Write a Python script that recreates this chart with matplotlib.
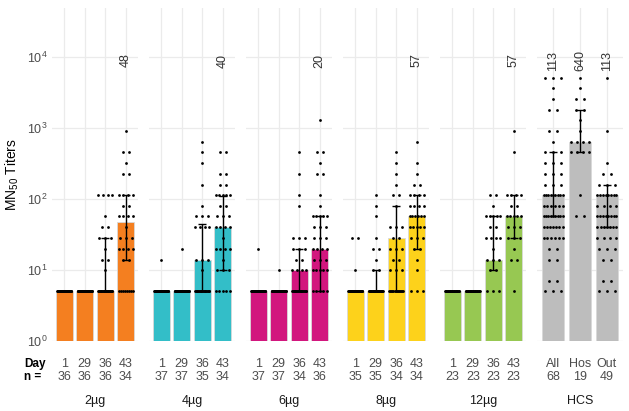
import numpy as np
import matplotlib
matplotlib.use("Agg")
import matplotlib.pyplot as plt
from matplotlib.ticker import LogLocator, NullLocator

plt.rcParams['font.family'] = ['Liberation Sans', 'DejaVu Sans']
plt.rcParams['mathtext.fontset'] = 'custom'
plt.rcParams['mathtext.rm'] = 'Liberation Sans'
plt.rcParams['mathtext.it'] = 'Liberation Sans:italic'

# facet groups
groups = ['2µg', '4µg', '6µg', '8µg', '12µg', 'HCS']
days = [['1', '29', '36', '43']] * 5 + [['All', 'Hos', 'Out']]
n_counts = [
    [36, 36, 36, 34],
    [37, 37, 35, 34],
    [37, 37, 34, 36],
    [35, 35, 34, 34],
    [23, 23, 23, 23],
    [68, 19, 49],
]
# bar heights (geometric mean titers)
gmt = [
    [5, 5, 5, 48],
    [5, 5, 14, 40],
    [5, 5, 10, 20],
    [5, 5, 28, 57],
    [5, 5, 14, 57],
    [113, 640, 113],
]
err_lo = [
    [5, 5, 5, 14],
    [5, 5, 5, 10],
    [5, 5, 5, 5],
    [5, 5, 5, 20],
    [5, 5, 10, 28],
    [57, 453, 40],
]
err_hi = [
    [5, 5, 28, 113],
    [5, 5, 45, 110],
    [5, 5, 20, 57],
    [5, 10, 80, 113],
    [5, 5, 57, 113],
    [453, 1810, 160],
]
# value labels shown above bars (None = no label)
top_labels = [
    [None, None, None, '48'],
    [None, None, None, '40'],
    [None, None, None, '20'],
    [None, None, None, '57'],
    [None, None, None, '57'],
    ['113', '640', '113'],
]
colors = ['#F47F20', '#33BEC8', '#D2177E', '#FDD21B', '#97C852', '#BDBDBD']

# individual titers
pts_2ug = [
    [5] * 36,
    [5] * 36,
    [113] * 4 + [57] + [40] * 2 + [28] * 3 + [20] + [14] * 2 + [10] + [5] * 22,
    [905] + [453] * 2 + [320] + [226] * 2 + [113] * 4 + [80] * 2 + [57] * 4 + [40]
    + [28] * 3 + [20] * 4 + [14] * 2 + [5] * 8,
]
pts_4ug = [
    [14] + [5] * 36,
    [20] + [5] * 36,
    [640, 453, 320, 160, 80] + [57] * 3 + [40] * 4 + [14] * 3 + [10] + [5] * 19,
    [453] * 2 + [226] * 2 + [160] * 2 + [113] * 5 + [80] * 2 + [57] * 3 + [40] * 4
    + [28] + [20] * 4 + [14] + [10] * 3 + [5] * 5,
]
pts_6ug = [
    [20] + [5] * 36,
    [10] + [5] * 36,
    [453, 226, 113, 80] + [28] * 3 + [20] * 3 + [14] * 2 + [10] * 4 + [5] * 18,
    [1280] + [453] * 2 + [320] + [226] * 2 + [113] + [80] + [57] * 5 + [40] * 3
    + [28] * 3 + [20] * 4 + [14] * 3 + [10] * 5 + [5] * 5,
]
pts_8ug = [
    [28] * 2 + [10] + [5] * 32,
    [113, 80, 57, 28] + [20] * 2 + [14] + [10] * 2 + [5] * 26,
    [453, 320, 226, 160] + [113] * 2 + [80] + [40] * 3 + [28] * 2 + [20] * 3
    + [14] * 2 + [10] * 3 + [5] * 14,
    [640, 320, 226] + [160] * 2 + [113] * 4 + [80] * 4 + [57] * 6 + [40] * 5
    + [28] * 3 + [20] * 2 + [14] + [10] + [5] * 3,
]
pts_12ug = [
    [5] * 23,
    [5] * 23,
    [113] * 2 + [80] + [57] * 5 + [40] * 2 + [28] * 4 + [20] + [14] * 3 + [10] * 2 + [5] * 3,
    [905, 453] + [113] * 4 + [80] * 2 + [57] * 5 + [40] * 3 + [28] * 3 + [20]
    + [14] * 2 + [5],
]
pts_hcs = [
    [5120] * 3 + [3620] + [2560] + [1810] * 2 + [905] * 2 + [640] + [453] * 3
    + [320] * 3 + [226] * 3 + [160] * 3 + [113] * 9 + [80] * 6 + [57] * 9
    + [40] * 7 + [28] * 6 + [20] * 2 + [14] * 2 + [7] * 2 + [5] * 3,
    [5120, 3620] + [2560] * 2 + [1810] * 2 + [1280] + [905] + [640] * 4 + [453] * 4
    + [113] + [57] * 2,
    [5120, 905, 320] + [226] * 2 + [160] * 3 + [113] * 8 + [80] * 4 + [57] * 8
    + [40] * 7 + [28] * 4 + [20] * 3 + [14] * 2 + [7] * 2 + [5] * 3,
]
points = [pts_2ug, pts_4ug, pts_6ug, pts_8ug, pts_12ug, pts_hcs]


def spread(vals):
    # place equal values side by side so they read as a row of dots
    vals = np.asarray(vals, dtype=float)
    off = np.zeros(len(vals))
    for v in np.unique(vals):
        idx = np.where(vals == v)[0]
        k = len(idx)
        if k > 1:
            sp = min(0.3, 0.7 / (k - 1))
            off[idx] = (np.arange(k) - (k - 1) / 2) * sp
    return off


W, H = 629, 411
fig = plt.figure(figsize=(W / 100, H / 100), dpi=100)
panel_left = [52, 149, 246, 343, 440, 537]
panel_w = 86
y_top, y_bot = 8, 341
grid_c = '#EBEBEB'
txt_c = '#4D4D4D'

for g, name in enumerate(groups):
    ax = fig.add_axes([panel_left[g] / W, (H - y_bot) / H,
                       panel_w / W, (y_bot - y_top) / H])
    ax.set_yscale('log')
    ax.set_ylim(1, 10 ** 4.69)
    k = len(days[g])
    x = np.arange(1, k + 1)
    ax.set_xlim(0.4, k + 0.6)
    h = np.array(gmt[g], dtype=float)
    ax.bar(x, h - 1, bottom=1, width=0.84, color=colors[g],
           edgecolor='#D9D9D9', linewidth=0.6, zorder=2)
    lo = np.array(err_lo[g], dtype=float)
    hi = np.array(err_hi[g], dtype=float)
    ax.errorbar(x, h, yerr=[h - lo, hi - h], fmt='none', ecolor='black',
                elinewidth=1.0, capsize=3, capthick=1.0, zorder=3)
    for i, vals in enumerate(points[g]):
        ax.scatter(x[i] + spread(vals), vals, s=4, color='black',
                   linewidths=0, zorder=4)
    for i, lab in enumerate(top_labels[g]):
        if lab:
            ax.text(x[i], 10 ** 3.95, lab, rotation=90, ha='center',
                    va='center', fontsize=9, color='#333333')

    ax.set_xticks(x)
    ax.yaxis.set_major_locator(LogLocator(base=10, numticks=10))
    ax.yaxis.set_minor_locator(NullLocator())
    ax.grid(True, color=grid_c, linewidth=0.9, zorder=0)
    ax.set_axisbelow(True)
    for s in ax.spines.values():
        s.set_visible(False)
    ax.tick_params(length=0, labelbottom=False)
    if g == 0:
        ax.tick_params(axis='y', labelsize=9, labelcolor=txt_c, pad=3)
    else:
        ax.tick_params(axis='y', labelleft=False)

    tr = ax.get_xaxis_transform()
    for i in range(k):
        ax.text(x[i], -0.069, days[g][i], transform=tr, ha='center',
                va='center', fontsize=9, color=txt_c)
        ax.text(x[i], -0.109, str(n_counts[g][i]), transform=tr, ha='center',
                va='center', fontsize=9, color=txt_c)
    ax.text(0.5, -0.18, name, transform=ax.transAxes, ha='center',
            va='center', fontsize=9, color='#1A1A1A')

fig.text(24 / W, (H - 364) / H, 'Day', fontsize=8.5, fontweight='bold',
         ha='left', va='center')
fig.text(24 / W, (H - 377) / H, 'n =', fontsize=8.5, fontweight='bold',
         ha='left', va='center')
fig.text(12 / W, (H - 175) / H, r'MN$_{\mathdefault{50}}$ Titers', rotation=90,
         ha='center', va='center', fontsize=10)

fig.savefig('out.png', dpi=100)
